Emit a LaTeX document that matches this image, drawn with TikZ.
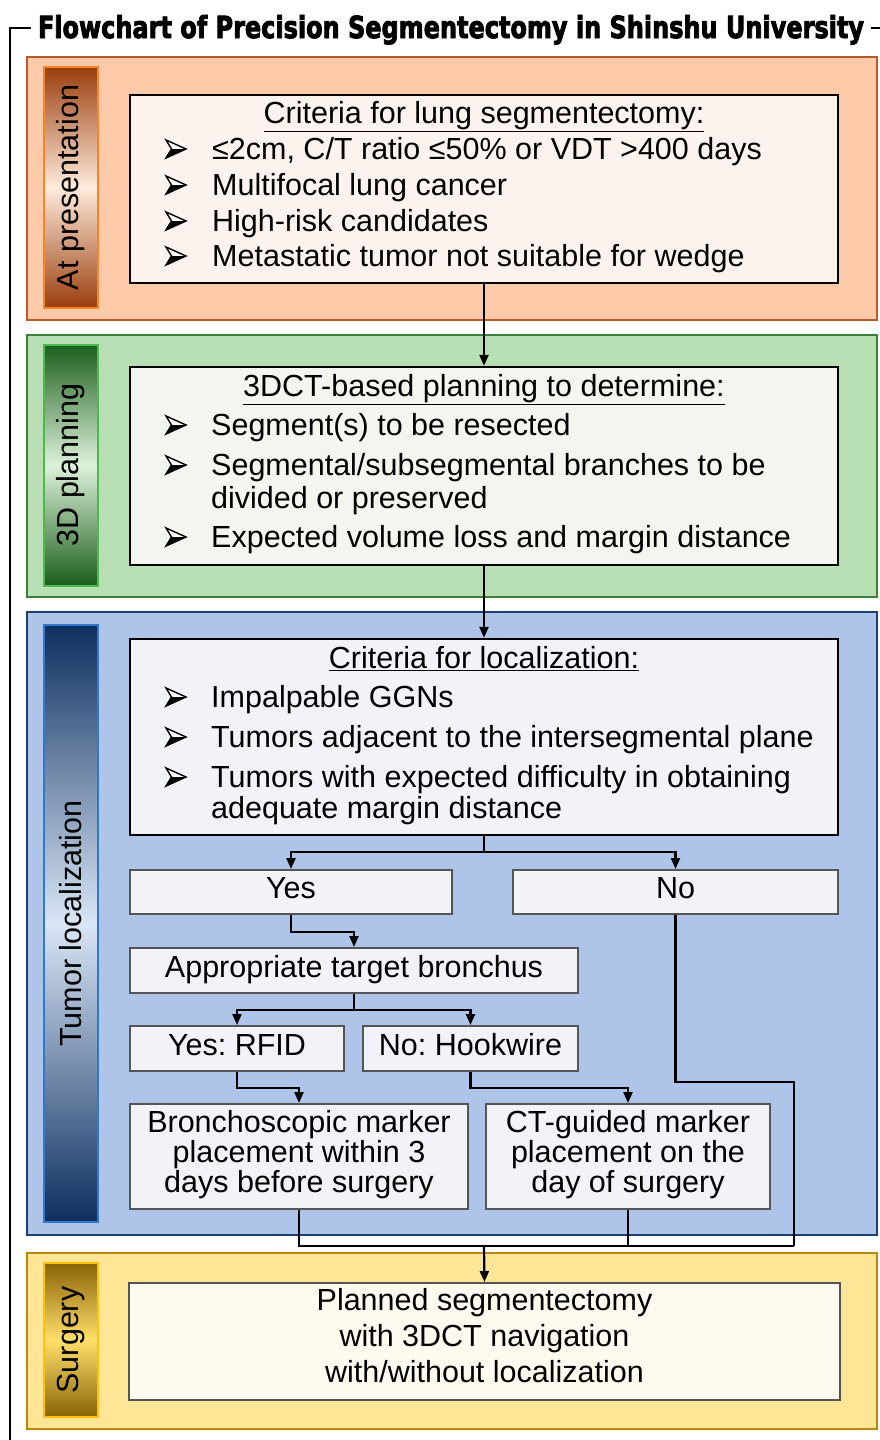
\documentclass[tikz,border=0pt]{standalone}
\usepackage{fontspec}
\setmainfont{Liberation Sans}
\newfontfamily\titlefont{DejaVu Sans}[BoldFeatures={FakeBold=3.2}]
\usetikzlibrary{arrows.meta,calc}
\definecolor{orBand}{HTML}{FCCAA8}
\definecolor{orEdge}{HTML}{B85A2C}
\definecolor{orBarEdge}{HTML}{F5842A}
\definecolor{orDark}{HTML}{9A3E0C}
\definecolor{orLight}{HTML}{FFEBDC}
\definecolor{grBand}{HTML}{B8DEB4}
\definecolor{grEdge}{HTML}{3A7F3A}
\definecolor{grBarEdge}{HTML}{4DB84D}
\definecolor{grDark}{HTML}{1C5E1C}
\definecolor{grLight}{HTML}{DDF2DA}
\definecolor{blBand}{HTML}{AEC4E8}
\definecolor{blEdge}{HTML}{1E3F72}
\definecolor{blBarEdge}{HTML}{2F78CC}
\definecolor{blDark}{HTML}{0D2E5E}
\definecolor{blLight}{HTML}{D9E6F6}
\definecolor{yeBand}{HTML}{FFE596}
\definecolor{yeEdge}{HTML}{B8870E}
\definecolor{yeBarEdge}{HTML}{FFC20A}
\definecolor{yeDark}{HTML}{8A6306}
\definecolor{yeLight}{HTML}{FFDF6A}
\definecolor{boxA}{HTML}{FDF3EE}
\definecolor{boxB}{HTML}{F3F5EF}
\definecolor{boxC}{HTML}{F2F3F9}
\definecolor{boxD}{HTML}{FEFAF0}
\definecolor{grayEdge}{HTML}{555555}
\frenchspacing
\begin{document}
\begin{tikzpicture}[x=1pt,y=-1pt,
  band/.style={draw, line width=1.3pt, inner sep=0pt},
  bar/.style={draw, line width=2pt, inner sep=0pt, minimum width=54pt},
  bartext/.style={rotate=90, font=\fontsize{30.5}{34}\selectfont, text=black},
  mainbox/.style={draw=black, line width=2.4pt, inner sep=0pt},
  smallbox/.style={draw=grayEdge, line width=2pt, fill=boxC, inner sep=0pt},
  txt/.style={font=\fontsize{30.5}{30}\selectfont, inner sep=0pt, anchor=base west},
  ctxt/.style={font=\fontsize{30.5}{30}\selectfont, inner sep=0pt, anchor=base},
  conn/.style={line width=2.2pt, draw=black},
  arr/.style={conn, -{Triangle[length=11pt,width=9pt]}},
  bulletarrow/.pic={
    \draw[line width=1.4pt, line join=miter, fill=white] (10,0) -- (-10,-9) -- (-4.5,0) -- (-10,9) -- cycle;
    \fill (10,0) -- (-4.5,0) -- (-10,9) -- cycle;
  }
]
\useasboundingbox (0,0) rectangle (880,1440);
\fill[white] (0,0) rectangle (880,1440);

% outer frame and title
\draw[line width=1.6pt] (31,28) -- (10,28) -- (10,1442);
\draw[line width=1.6pt] (871,28) -- (882,28);
\node[inner sep=0pt, anchor=base] (title) at (451,38)
  {\resizebox{826pt}{23pt}{\titlefont\bfseries Flowchart of Precision Segmentectomy in Shinshu University}};

% bands
\node[band, draw=orEdge, fill=orBand, minimum width=850pt, minimum height=263pt] (bandA) at (452,188.5) {};
\node[band, draw=grEdge, fill=grBand, minimum width=850pt, minimum height=262pt] (bandB) at (452,466) {};
\node[band, draw=blEdge, fill=blBand, minimum width=850pt, minimum height=623pt] (bandC) at (452,923.5) {};
\node[band, draw=yeEdge, fill=yeBand, minimum width=850pt, minimum height=176pt] (bandD) at (452,1341) {};

% side bars
\node[bar, draw=orBarEdge, top color=orDark, bottom color=orDark, middle color=orLight, minimum height=241pt] (barA) at (71,187.5) {};
\node[bartext] (labA) at (barA) {At presentation};
\node[bar, draw=grBarEdge, top color=grDark, bottom color=grDark, middle color=grLight, minimum height=241pt] (barB) at (71,465) {};
\node[bartext] (labB) at (barB) {3D planning};
\node[bar, draw=blBarEdge, top color=blDark, bottom color=blDark, middle color=blLight, minimum height=597pt] (barC) at (71,923.5) {};
\node[bartext] (labC) at (barC) {Tumor localization};
\node[bar, draw=yeBarEdge, top color=yeDark, bottom color=yeDark, middle color=yeLight, minimum height=154pt] (barD) at (71,1340) {};
\node[bartext] (labD) at (barD) {Surgery};

% box 1
\node[mainbox, fill=boxA, minimum width=708pt, minimum height=188pt] (crit) at (484,189) {};
\node[ctxt] (critT) at (484,123) {\underline{Criteria for lung segmentectomy:}};
\pic at (176,149) {bulletarrow};
\node[txt] (t11) at (212,159.5) {≤2cm, C/T ratio ≤50\% or VDT >400 days};
\pic at (176,185) {bulletarrow};
\node[txt] (t12) at (212,195.5) {Multifocal lung cancer};
\pic at (176,221) {bulletarrow};
\node[txt] (t13) at (212,231.5) {High-risk candidates};
\pic at (176,256) {bulletarrow};
\node[txt] (t14) at (212,266.5) {Metastatic tumor not suitable for wedge};

% box 2
\node[mainbox, fill=boxB, minimum width=708pt, minimum height=198pt] (plan) at (484,466) {};
\node[ctxt] (planT) at (484,396) {\underline{3DCT-based planning to determine:}};
\pic at (176,425) {bulletarrow};
\node[txt] (t21) at (211,435.5) {Segment(s) to be resected};
\pic at (176,465) {bulletarrow};
\node[txt] (t22) at (211,475.5) {Segmental/subsegmental branches to be};
\node[txt] (t22b) at (211,508.5) {divided or preserved};
\pic at (176,537) {bulletarrow};
\node[txt] (t23) at (211,547.5) {Expected volume loss and margin distance};

% box 3
\node[mainbox, fill=boxC, minimum width=708pt, minimum height=196pt] (loc) at (484,737) {};
\node[ctxt] (locT) at (484,668) {\underline{Criteria for localization:}};
\pic at (176,697) {bulletarrow};
\node[txt] (t31) at (211,707.5) {Impalpable GGNs};
\pic at (176,737) {bulletarrow};
\node[txt] (t32) at (211,747.5) {Tumors adjacent to the intersegmental plane};
\pic at (176,777) {bulletarrow};
\node[txt] (t33) at (211,787.5) {Tumors with expected difficulty in obtaining};
\node[txt] (t33b) at (211,818.5) {adequate margin distance};

% decision boxes
\node[smallbox, minimum width=322pt, minimum height=44pt] (yes) at (291,892) {};
\node[ctxt] (yesT) at (291,898.5) {Yes};
\node[smallbox, minimum width=325pt, minimum height=44pt] (no) at (675.5,892) {};
\node[ctxt] (noT) at (675.5,898.5) {No};
\node[smallbox, minimum width=448pt, minimum height=45pt] (bron) at (354,970.5) {};
\node[ctxt] (bronT) at (354,977) {Appropriate target bronchus};
\node[smallbox, minimum width=214pt, minimum height=45pt] (rfid) at (237,1048.5) {};
\node[ctxt] (rfidT) at (237,1055) {Yes: RFID};
\node[smallbox, minimum width=215pt, minimum height=45pt] (hook) at (470.5,1048.5) {};
\node[ctxt] (hookT) at (470.5,1055) {No: Hookwire};
\node[smallbox, minimum width=338pt, minimum height=105pt] (bm) at (299,1156.5) {};
\node[ctxt] (bm1) at (299,1132.5) {Bronchoscopic marker};
\node[ctxt] (bm2) at (299,1162.5) {placement within 3};
\node[ctxt] (bm3) at (299,1192.5) {days before surgery};
\node[smallbox, minimum width=284pt, minimum height=105pt] (ct) at (628,1156.5) {};
\node[ctxt] (ct1) at (628,1132.5) {CT-guided marker};
\node[ctxt] (ct2) at (628,1162.5) {placement on the};
\node[ctxt] (ct3) at (628,1192.5) {day of surgery};

% surgery box
\node[draw=grayEdge, line width=2pt, fill=boxD, inner sep=0pt, minimum width=711pt, minimum height=117pt] (surg) at (484.5,1341.5) {};
\node[ctxt] (s1) at (484.5,1310.5) {Planned segmentectomy};
\node[ctxt] (s2) at (484.5,1346.5) {with 3DCT navigation};
\node[ctxt] (s3) at (484.5,1382.5) {with/without localization};

% connectors
\draw[arr] (crit.south) -- (plan.north);
\draw[arr] (plan.south) -- (loc.north);
\coordinate (j1) at (484,852);
\draw[conn] (loc.south) -- (j1);
\draw[arr] (j1) -| (yes.north);
\draw[arr] (j1) -| (no.north);
\draw[arr] (yes.south) -- ++(0,17) -| (bron.north);
\coordinate (j2) at (354,1010);
\draw[conn] (bron.south) -- (j2);
\draw[arr] (j2) -| (rfid.north);
\draw[arr] (j2) -| (hook.north);
\draw[arr] (rfid.south) -- ++(0,16) -| (bm.north);
\draw[arr] (hook.south) -- ++(0,16) -| (ct.north);
\coordinate (j3) at (794,1246);
\coordinate (j4) at (484,1246);
\draw[conn] (no.south) -- ++(0,167) -| (j3);
\draw[conn] (bm.south) |- (j3);
\draw[conn] (ct.south) -- (ct.south |- j3);
\draw[arr] (j4) -- (surg.north);
\end{tikzpicture}
\end{document}
